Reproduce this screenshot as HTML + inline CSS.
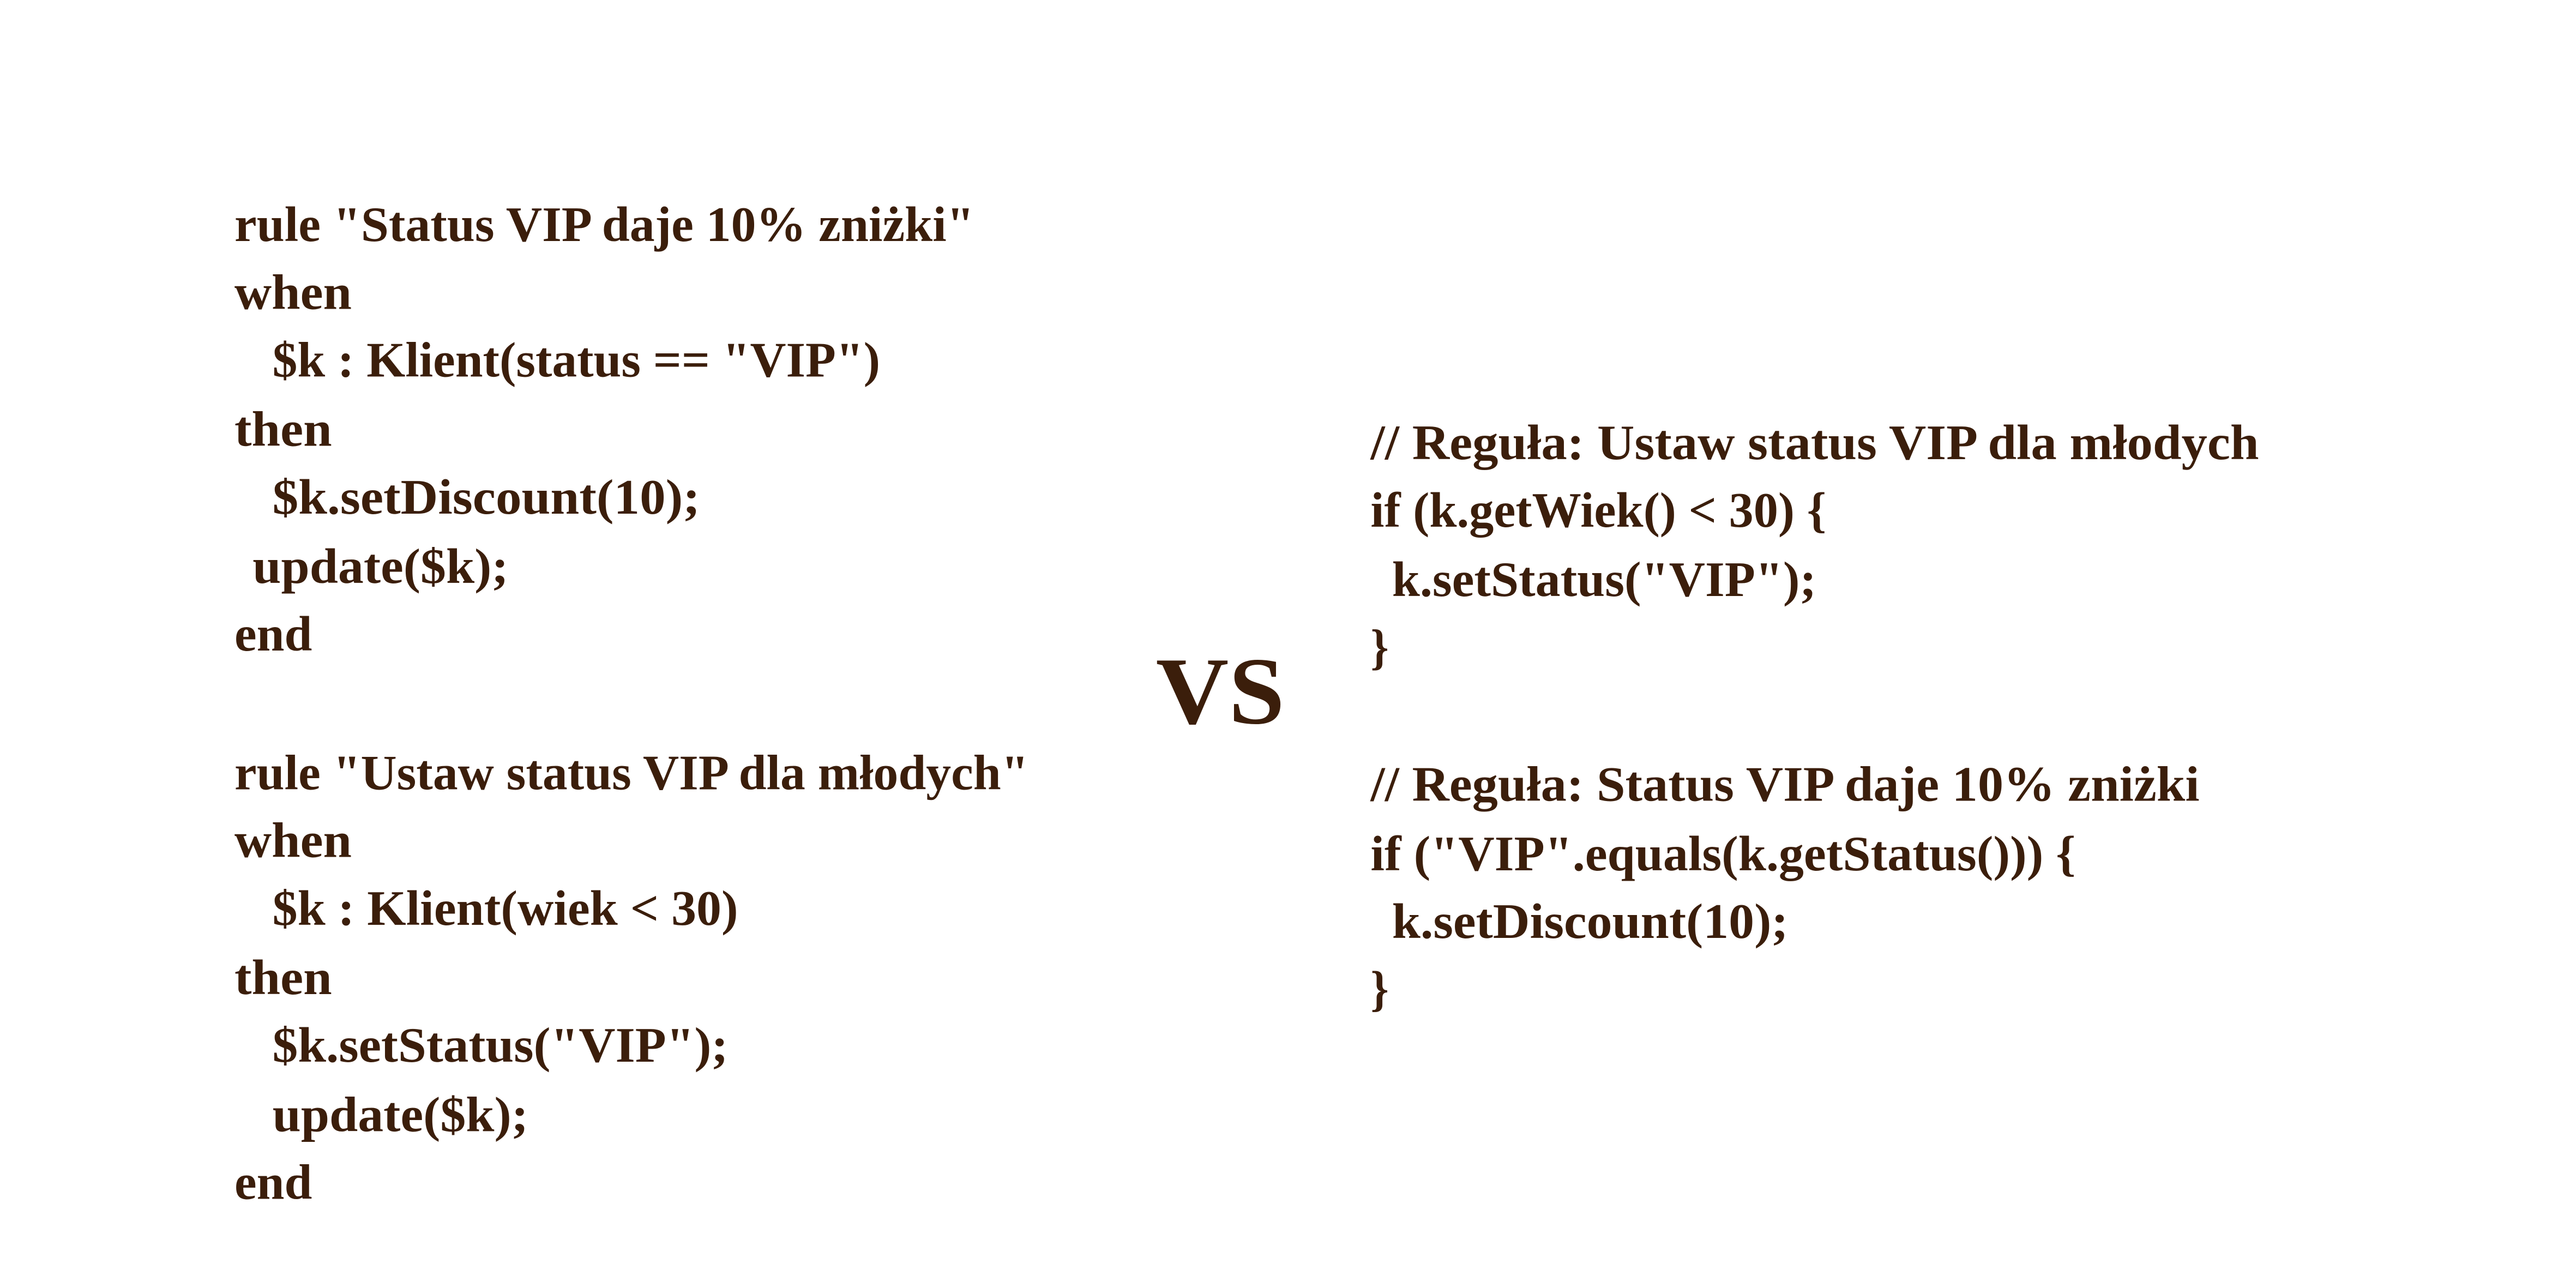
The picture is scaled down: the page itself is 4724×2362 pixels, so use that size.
<!DOCTYPE html>
<html><head><meta charset="utf-8"><style>
html,body{margin:0;padding:0;background:#fff;}
svg{display:block}
text{font-family:"Liberation Serif",serif;font-weight:bold;fill:#3b1e0b;font-size:30px}
</style></head><body>
<svg width="4724" height="2362" viewBox="0 0 1560 780" xmlns="http://www.w3.org/2000/svg">
<g lengthAdjust="spacingAndGlyphs">
<text x="142" y="146" textLength="448" lengthAdjust="spacingAndGlyphs">rule "Status VIP daje 10% zniżki"</text>
<text x="142" y="187" textLength="71" lengthAdjust="spacingAndGlyphs">when</text>
<text x="165" y="228" textLength="368" lengthAdjust="spacingAndGlyphs">$k : Klient(status == "VIP")</text>
<text x="142" y="270" textLength="59" lengthAdjust="spacingAndGlyphs">then</text>
<text x="165" y="311" textLength="259" lengthAdjust="spacingAndGlyphs">$k.setDiscount(10);</text>
<text x="153" y="353" textLength="155" lengthAdjust="spacingAndGlyphs">update($k);</text>
<text x="142" y="394" textLength="47" lengthAdjust="spacingAndGlyphs">end</text>

<text x="142" y="478" textLength="481" lengthAdjust="spacingAndGlyphs">rule "Ustaw status VIP dla młodych"</text>
<text x="142" y="519" textLength="71" lengthAdjust="spacingAndGlyphs">when</text>
<text x="165" y="560" textLength="282" lengthAdjust="spacingAndGlyphs">$k : Klient(wiek &lt; 30)</text>
<text x="142" y="602" textLength="59" lengthAdjust="spacingAndGlyphs">then</text>
<text x="165" y="643" textLength="276" lengthAdjust="spacingAndGlyphs">$k.setStatus("VIP");</text>
<text x="165" y="685" textLength="155" lengthAdjust="spacingAndGlyphs">update($k);</text>
<text x="142" y="726" textLength="47" lengthAdjust="spacingAndGlyphs">end</text>

<text x="700" y="438" style="font-size:58px" textLength="78" lengthAdjust="spacingAndGlyphs">VS</text>

<text x="830" y="278" textLength="538" lengthAdjust="spacingAndGlyphs">// Reguła: Ustaw status VIP dla młodych</text>
<text x="830" y="319" textLength="276" lengthAdjust="spacingAndGlyphs">if (k.getWiek() &lt; 30) {</text>
<text x="843" y="361" textLength="257" lengthAdjust="spacingAndGlyphs">k.setStatus("VIP");</text>
<text x="830" y="402" textLength="11" lengthAdjust="spacingAndGlyphs">}</text>
<text x="830" y="485" textLength="502" lengthAdjust="spacingAndGlyphs">// Reguła: Status VIP daje 10% zniżki</text>
<text x="830" y="527" textLength="427" lengthAdjust="spacingAndGlyphs">if ("VIP".equals(k.getStatus())) {</text>
<text x="843" y="568" textLength="240" lengthAdjust="spacingAndGlyphs">k.setDiscount(10);</text>
<text x="830" y="609" textLength="11" lengthAdjust="spacingAndGlyphs">}</text>
</g>
</svg>
</body></html>
